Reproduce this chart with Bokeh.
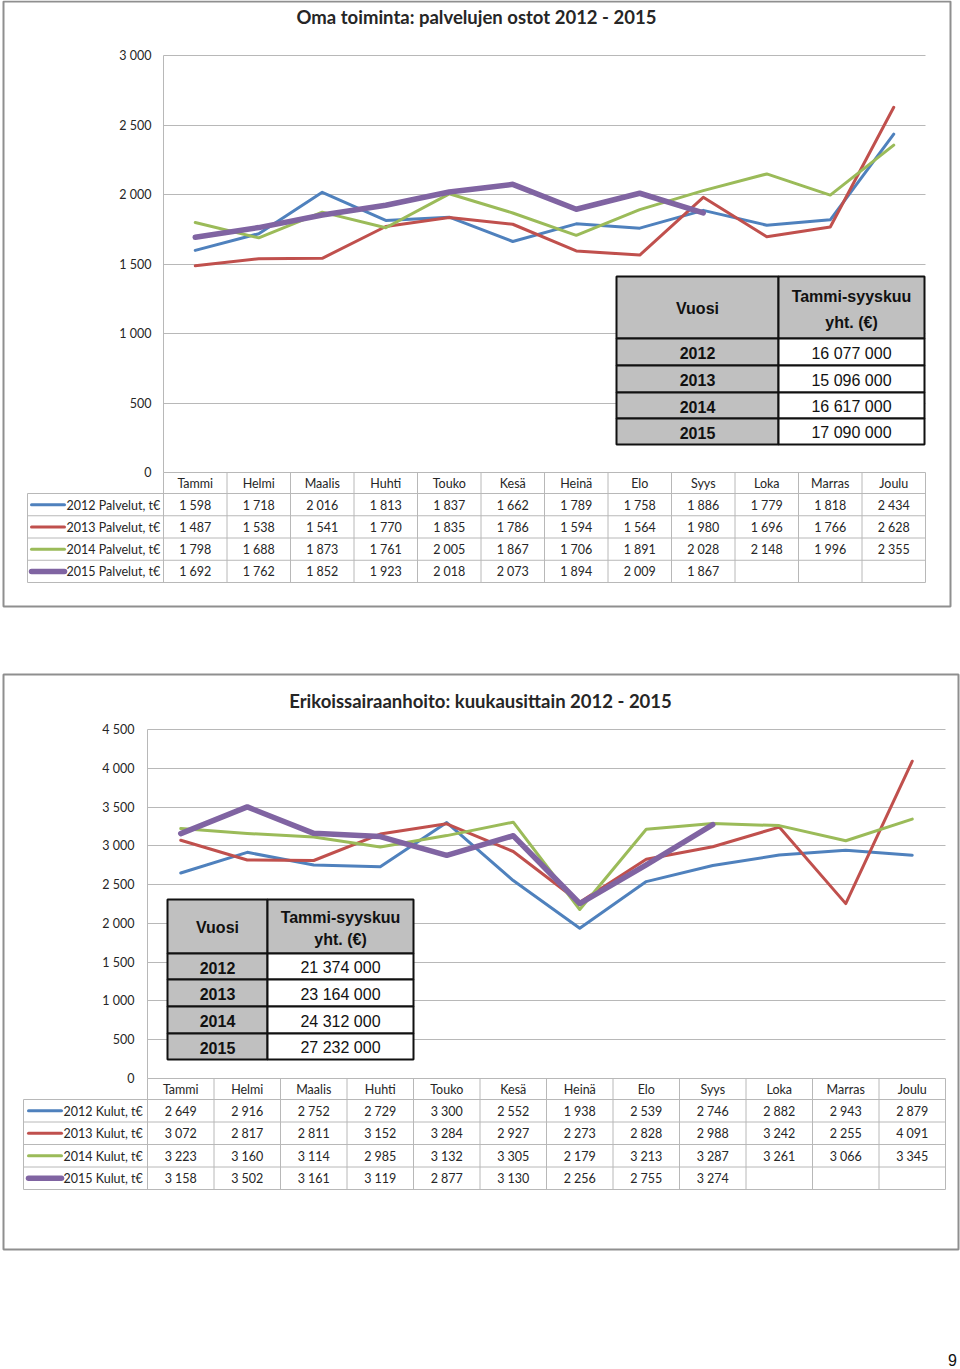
import numpy as np
from bokeh.plotting import figure
from bokeh.models import Range1d, FixedTicker
from bokeh.layouts import column
from bokeh.embed import file_html
from bokeh.resources import INLINE
from bokeh.core.properties import value

# ---------------- data ----------------
months = ["Tammi", "Helmi", "Maalis", "Huhti", "Touko", "Kesä", "Heinä",
          "Elo", "Syys", "Loka", "Marras", "Joulu"]
years = ["2012", "2013", "2014", "2015"]

palvelut_2012 = [1598, 1718, 2016, 1813, 1837, 1662, 1789, 1758, 1886, 1779, 1818, 2434]
palvelut_2013 = [1487, 1538, 1541, 1770, 1835, 1786, 1594, 1564, 1980, 1696, 1766, 2628]
palvelut_2014 = [1798, 1688, 1873, 1761, 2005, 1867, 1706, 1891, 2028, 2148, 1996, 2355]
palvelut_2015 = [1692, 1762, 1852, 1923, 2018, 2073, 1894, 2009, 1867, None, None, None]
palvelut_totals = [16077000, 15096000, 16617000, 17090000]

kulut_2012 = [2649, 2916, 2752, 2729, 3300, 2552, 1938, 2539, 2746, 2882, 2943, 2879]
kulut_2013 = [3072, 2817, 2811, 3152, 3284, 2927, 2273, 2828, 2988, 3242, 2255, 4091]
kulut_2014 = [3223, 3160, 3114, 2985, 3132, 3305, 2179, 3213, 3287, 3261, 3066, 3345]
kulut_2015 = [3158, 3502, 3161, 3119, 2877, 3130, 2256, 2755, 3274, None, None, None]
kulut_totals = [21374000, 23164000, 24312000, 27232000]

ticks1 = [0, 500, 1000, 1500, 2000, 2500, 3000]
ticks2 = [0, 500, 1000, 1500, 2000, 2500, 3000, 3500, 4000, 4500]

title1 = "Oma toiminta: palvelujen ostot 2012 - 2015"
title2 = "Erikoissairaanhoito: kuukausittain 2012 - 2015"
suffix1 = "Palvelut, t€"
suffix2 = "Kulut, t€"
head_col1 = "Vuosi"
head_col2 = ["Tammi-syyskuu", "yht. (€)"]
page_number = "9"

# ---------------- styles ----------------
COLORS = ["#4F81BD", "#C0504D", "#9BBB59", "#8064A2"]
WIDTHS = [3, 3, 3, 5.5]
FONT = "Lato"
TFONT = "Liberation Sans"
GRID = "#b8b8b8"
TXT = "#262626"
W = 960


def fmt(v):
    return f"{v:,}".replace(",", " ")


def make_panel(title, series, suffix, totals, ticks, ymax, g, W, H):
    ox, oy = 0, g["oy"]
    dxp = (g["pr"] - g["pl"]) / 12.0          # pixels per category
    c0 = g["pl"] + dxp / 2.0                   # ref x of first category
    sy = (g["y0"] - g["ytop"]) / float(ymax)   # pixels per unit

    def X(px):
        return (px - c0) / dxp

    def Y(py):
        return (g["y0"] - py) / sy

    p = figure(width=W, height=H, output_backend="svg", toolbar_location=None,
               x_range=Range1d(X(ox), X(ox + W)), y_range=Range1d(Y(oy + H), Y(oy)),
               x_axis_location=None, y_axis_location="left", min_border=0,
               tools="")
    p.outline_line_color = None
    p.background_fill_color = "white"
    p.border_fill_color = "white"

    ax = p.yaxis[0]
    ax.fixed_location = X(g["pl"])
    ax.ticker = FixedTicker(ticks=ticks)
    ax.bounds = (0, ymax)
    ax.major_label_overrides = {t: fmt(t) for t in ticks}
    ax.axis_line_color = GRID
    ax.major_tick_line_color = None
    ax.minor_tick_line_color = None
    ax.major_label_standoff = g["pl"] - g["lab"]
    ax.major_label_text_font = FONT
    ax.major_label_text_font_size = "12.5px"
    ax.major_label_text_color = TXT
    p.ygrid.grid_line_color = GRID
    p.ygrid.cross_bounds = (X(g["pl"]), X(g["pr"]))
    p.xgrid.visible = False

    # panel border
    bl, bt, br, bb = g["border"]
    p.quad(left=[X(bl)], right=[X(br)], top=[Y(bt)], bottom=[Y(bb)],
           fill_color=None, line_color="#8f8f8f", line_width=2)

    # title
    p.text(x=[X(g["tx"])], y=[Y(g["ty"])], text=[title], text_font=value(FONT),
           text_font_style="bold", text_font_size="18.5px", text_color=TXT,
           text_align="center", text_baseline="middle")

    # data table geometry
    hb = g["hb"]
    rh = g["rh"]
    bounds = [hb + rh * k for k in range(5)]
    bottom = bounds[-1]
    xs_v = [i - 0.5 for i in range(13)]
    p.segment(x0=xs_v, x1=xs_v, y0=[0] * 13, y1=[Y(bottom)] * 13,
              line_color=GRID, line_width=1)
    p.segment(x0=[X(g["ll"])], x1=[X(g["ll"])], y0=[Y(hb)], y1=[Y(bottom)],
              line_color=GRID, line_width=1)
    p.segment(x0=[X(g["ll"])] * 5, x1=[X(g["pr"])] * 5,
              y0=[Y(b) for b in bounds], y1=[Y(b) for b in bounds],
              line_color=GRID, line_width=1)
    p.text(x=list(range(12)), y=[Y((g["y0"] + hb) / 2 + 0.5)] * 12, text=months,
           text_font=value(FONT), text_font_size="12.5px", text_color=TXT,
           text_align="center", text_baseline="middle")

    for k, (yr, vals) in enumerate(zip(years, series)):
        yv = np.array([np.nan if v is None else v for v in vals], dtype=float)
        p.line(x=list(range(12)), y=yv, line_color=COLORS[k], line_width=WIDTHS[k],
               line_join="round", line_cap="round")
        rc = Y(bounds[k] + rh / 2 + 0.5)
        p.segment(x0=[X(g["lsx0"])], x1=[X(g["lsx1"])], y0=[Y(bounds[k] + rh / 2)],
                  y1=[Y(bounds[k] + rh / 2)], line_color=COLORS[k], line_width=WIDTHS[k],
                  line_cap="round")
        p.text(x=[X(g["ltx"])], y=[rc], text=[f"{yr} {suffix}"], text_font=value(FONT),
               text_font_size="12.5px", text_color=TXT, text_align="left",
               text_baseline="middle")
        idx = [i for i, v in enumerate(vals) if v is not None]
        p.text(x=idx, y=[rc] * len(idx), text=[fmt(vals[i]) for i in idx],
               text_font=value(FONT), text_font_size="12.5px", text_color=TXT,
               text_align="center", text_baseline="middle")

    # inset summary table
    il, isp, ir = g["il"], g["isp"], g["ir"]
    rows = g["irows"]
    gray = "#c0c0c0"
    tops = rows[:-1]
    bots = rows[1:]
    p.quad(left=[X(il)] * 5, right=[X(isp)] * 5, top=[Y(t) for t in tops],
           bottom=[Y(b) for b in bots], fill_color=gray, line_color="#111111", line_width=2)
    p.quad(left=[X(isp)] * 5, right=[X(ir)] * 5, top=[Y(t) for t in tops],
           bottom=[Y(b) for b in bots], fill_color=[gray] + ["white"] * 4,
           line_color="#111111", line_width=2)
    c1 = (il + isp) / 2
    c2 = (isp + ir) / 2
    htop, hbot = rows[0], rows[1]
    hmid = (htop + hbot) / 2
    p.text(x=[X(c1)], y=[Y(hmid + 1)], text=[head_col1], text_font=value(TFONT),
           text_font_style="bold", text_font_size="16px", text_color="#111111",
           text_align="center", text_baseline="middle")
    hh = (hbot - htop)
    p.text(x=[X(c2), X(c2)], y=[Y(htop + hh * 0.33), Y(htop + hh * 0.74)], text=head_col2,
           text_font=value(TFONT), text_font_style="bold", text_font_size="16px",
           text_color="#111111", text_align="center", text_baseline="middle")
    mids = [(rows[i + 1] + rows[i + 2]) / 2 + 1 for i in range(4)]
    p.text(x=[X(c1)] * 4, y=[Y(m) for m in mids], text=years, text_font=value(TFONT),
           text_font_style="bold", text_font_size="16px", text_color="#111111",
           text_align="center", text_baseline="middle")
    p.text(x=[X(c2)] * 4, y=[Y(m) for m in mids], text=[fmt(t) for t in totals],
           text_font=value(TFONT), text_font_size="16px", text_color="#111111",
           text_align="center", text_baseline="middle")
    return p, X, Y


g1 = dict(oy=0, pl=163, pr=925, ytop=55, y0=472, lab=157, hb=493, rh=22.25,
          ll=27, lsx0=31, lsx1=64, ltx=66, tx=476, ty=16,
          il=616, isp=778, ir=924, irows=[276, 338, 365, 392, 418, 444],
          border=(3, 1, 950, 606))
g2 = dict(oy=660, pl=147, pr=945, ytop=729, y0=1078, lab=140, hb=1099, rh=22.5,
          ll=23, lsx0=28, lsx1=61, ltx=63, tx=480, ty=700,
          il=167, isp=267, ir=413, irows=[899, 953, 979, 1006, 1033, 1059],
          border=(3, 674, 958, 1249))

p1, X1, Y1 = make_panel(title1, [palvelut_2012, palvelut_2013, palvelut_2014, palvelut_2015],
                        suffix1, palvelut_totals, ticks1, 3000, g1, W, 660)
p2, X2, Y2 = make_panel(title2, [kulut_2012, kulut_2013, kulut_2014, kulut_2015],
                        suffix2, kulut_totals, ticks2, 4500, g2, W, 709)
p2.text(x=[X2(952)], y=[Y2(1359)], text=[page_number], text_font=value(TFONT),
        text_font_size="16px", text_color="#111111", text_align="center",
        text_baseline="middle")

layout = column(p1, p2, spacing=0)
open("out.html", "w").write(file_html(layout, INLINE))
